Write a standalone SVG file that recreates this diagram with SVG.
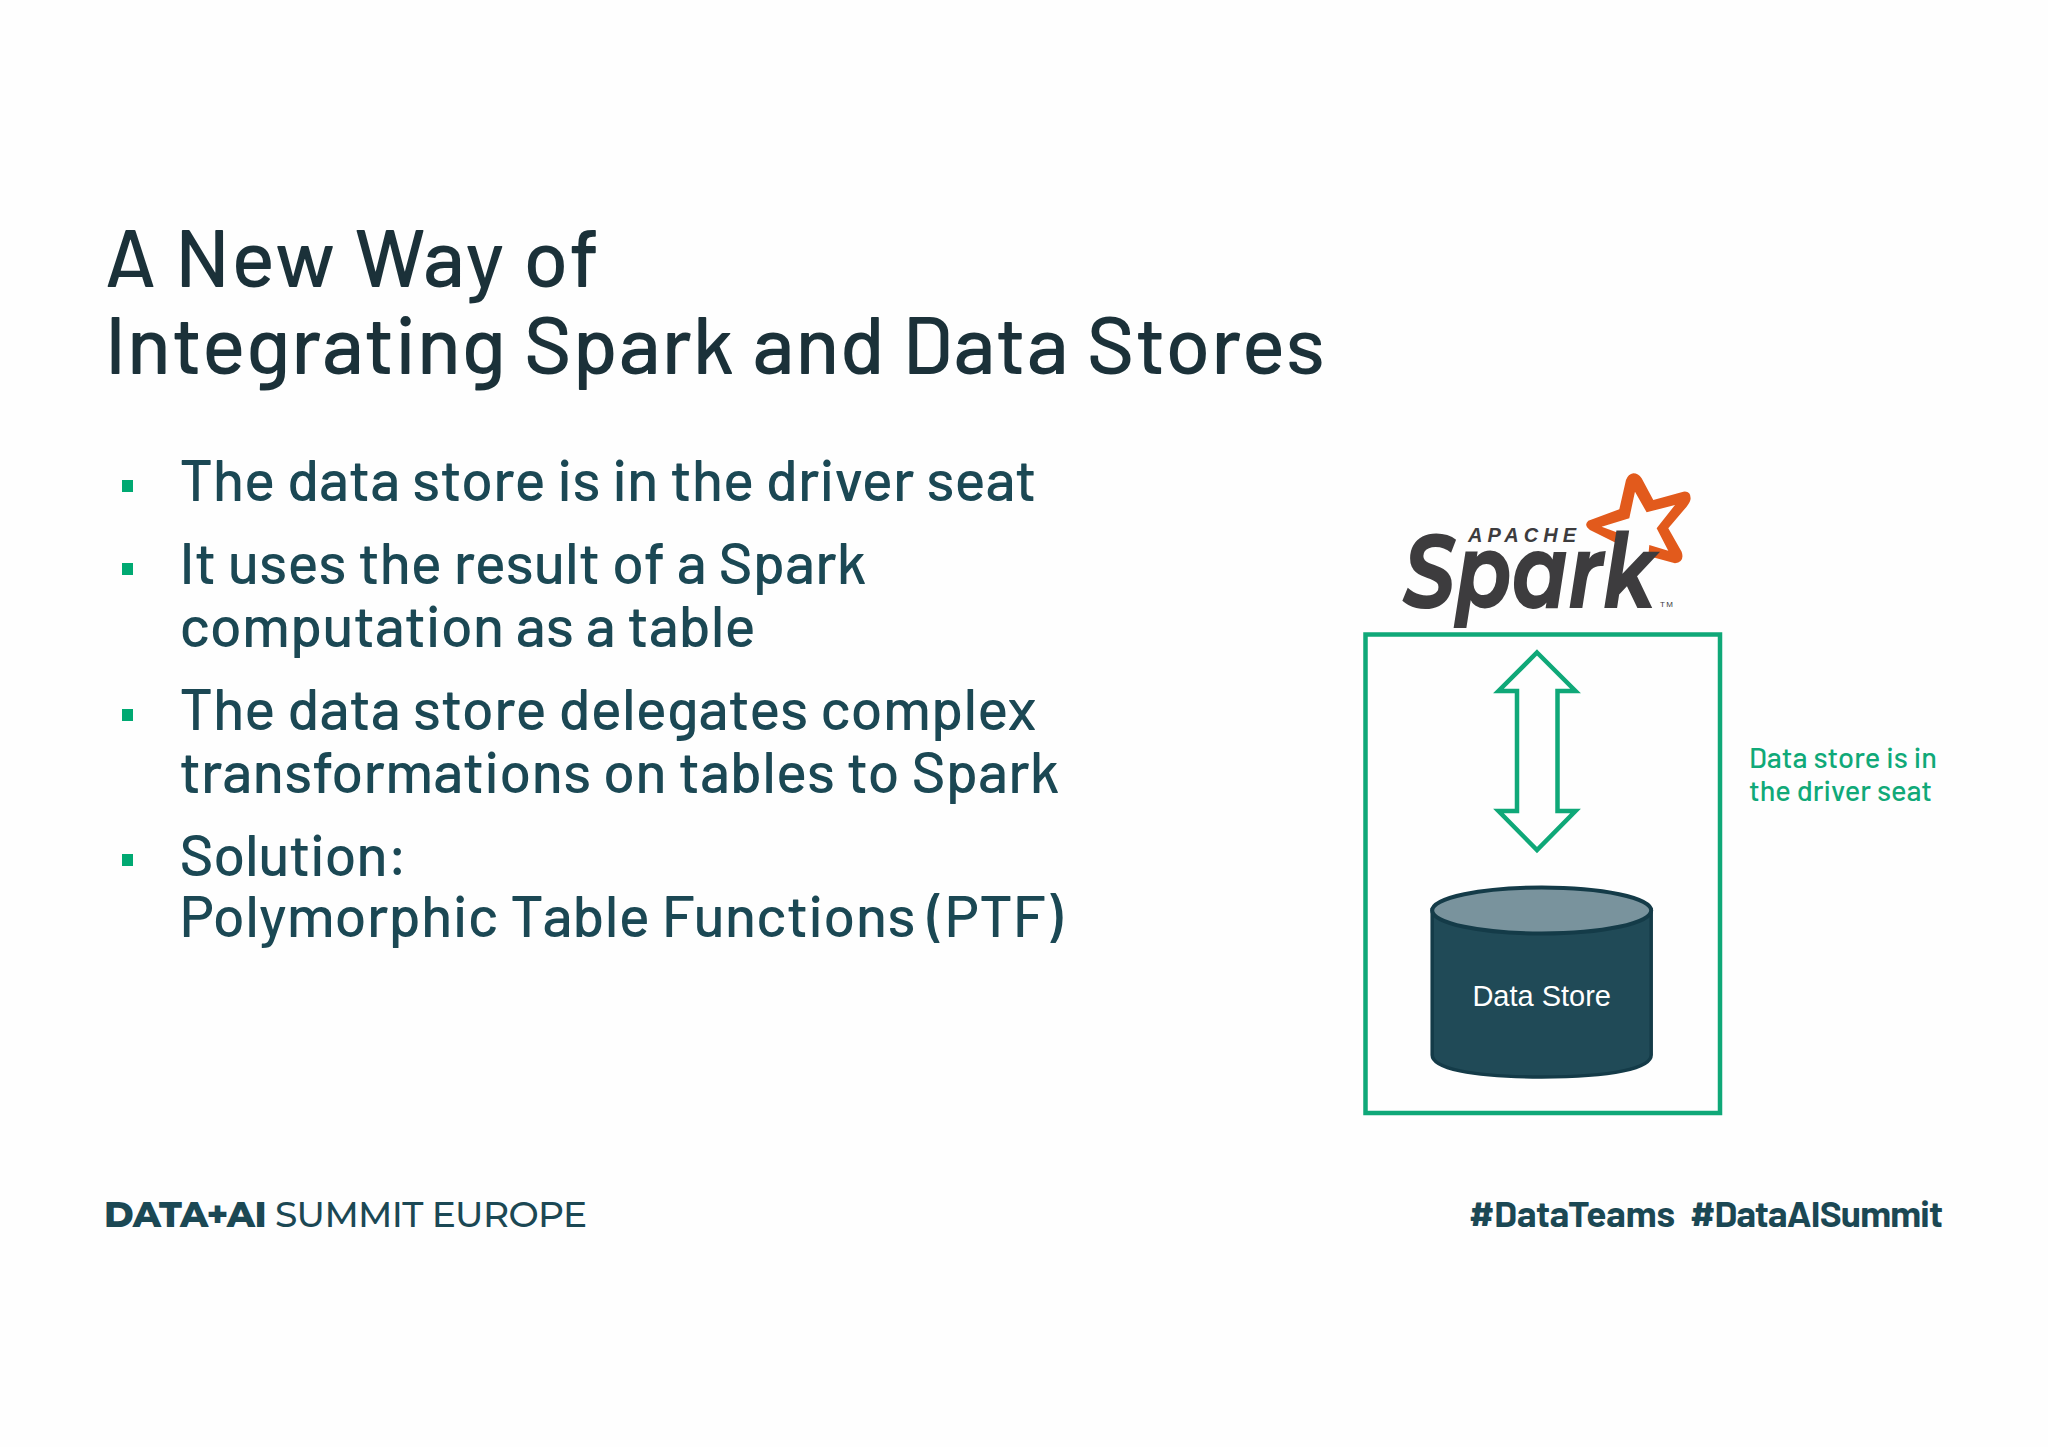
<svg xmlns="http://www.w3.org/2000/svg" width="2048" height="1447" viewBox="0 0 2048 1447">
<style>
.f{font-family:"Barlow","Roboto","Liberation Sans",sans-serif}
.title{font-size:81px;font-weight:500;fill:#1b3139}
.b{font-size:58px;font-weight:500;fill:#1b4854}
.n{font-size:29px;font-weight:500;fill:#10a978}
.h{font-size:37px;font-weight:700;fill:#1b4854}
.g{fill:#00a972}
.s{font-family:"Liberation Sans",Arial,sans-serif}
</style>
<rect width="2048" height="1447" fill="#fefefe"/>
<g id="title" class="f"><text class="title" x="105" y="287" textLength="494">A New Way of</text><text class="title" x="105" y="374" textLength="1220">Integrating Spark and Data Stores</text></g>
<g id="bullets" class="f">
<rect class="g" x="122" y="480" width="11" height="12"/><rect class="g" x="122" y="563" width="11" height="12"/><rect class="g" x="122" y="709" width="11" height="12"/><rect class="g" x="122" y="854" width="11" height="12"/>
<text class="b" x="179.5" y="501" textLength="857">The data store is in the driver seat</text>
<text class="b" x="179.5" y="584" textLength="687">It uses the result of a Spark</text>
<text class="b" x="179.5" y="647" textLength="576">computation as a table</text>
<text class="b" x="179.5" y="730" textLength="857">The data store delegates complex</text>
<text class="b" x="179.5" y="793" textLength="880">transformations on tables to Spark</text>
<text class="b" x="179.5" y="876" textLength="228">Solution:</text>
<text class="b" x="179.5" y="937" textLength="883">Polymorphic Table Functions (PTF)</text>
</g>
<g id="spark-logo">
<path transform="translate(1340 450) scale(.3333)" fill="#e25a1c" d="M880 70Q895 70 905 85L940 150L1030 125Q1052 122 1052 145Q1052 155 1040 170L985 235L1025 305Q1035 335 1005 340L925 318L928 285L985 302L950 235L1005 165L920 187L885 125L868 205L785 230L838 250L830 280L750 240Q730 225 745 212L838 178L858 90Q865 72 880 70Z"/>
<g fill="#3d3c3e">
<text class="s" x="1468" y="542" textLength="108" style="font-size:20px;font-weight:bold;font-style:italic">APACHE</text>
<text x="1403" y="608" textLength="253" lengthAdjust="spacingAndGlyphs" style="font-family:'Montserrat','Liberation Sans',sans-serif;font-size:104px;font-weight:700;font-style:italic">Spark</text>
<text class="s" x="1660" y="607" textLength="13" style="font-size:8px">TM</text>
</g>
</g>
<g id="driver-box"><rect x="1365.5" y="634.5" width="354.5" height="478.5" fill="none" stroke="#0fa878" stroke-width="4.5"/></g>
<g id="connectors"><path d="M1537 652.5L1575.5 691H1557.5V811H1575.5L1537 850L1498.5 811H1517V691H1498.5Z" fill="none" stroke="#0fa878" stroke-width="4.5"/></g>
<g id="data-store">
<path d="M1432.2 910V1055C1432.2 1068 1470 1077 1541.7 1077C1613 1077 1651.2 1068 1651.2 1055V910Z" fill="#204a57" stroke="#143b48" stroke-width="3.5"/>
<ellipse cx="1541.7" cy="910.5" rx="109.5" ry="23" fill="#79939d" stroke="#143b48" stroke-width="4"/>
<text class="s" x="1541.7" y="1006" text-anchor="middle" fill="#fff" style="font-size:29px">Data Store</text>
</g>
<g id="note" class="f"><text class="n" x="1749" y="768" textLength="188">Data store is in</text><text class="n" x="1749" y="801" textLength="183">the driver seat</text></g>
<g id="footer">
<text x="104" y="1227" textLength="483" fill="#1b4854" style="font-family:'Montserrat','Inter',sans-serif;font-size:36px;font-weight:500"><tspan font-weight="800">DATA+AI</tspan> SUMMIT EUROPE</text>
<text class="f h" x="1469" y="1227" textLength="206">#DataTeams</text>
<text class="f h" x="1690" y="1227" textLength="253">#DataAISummit</text>
</g>
</svg>
